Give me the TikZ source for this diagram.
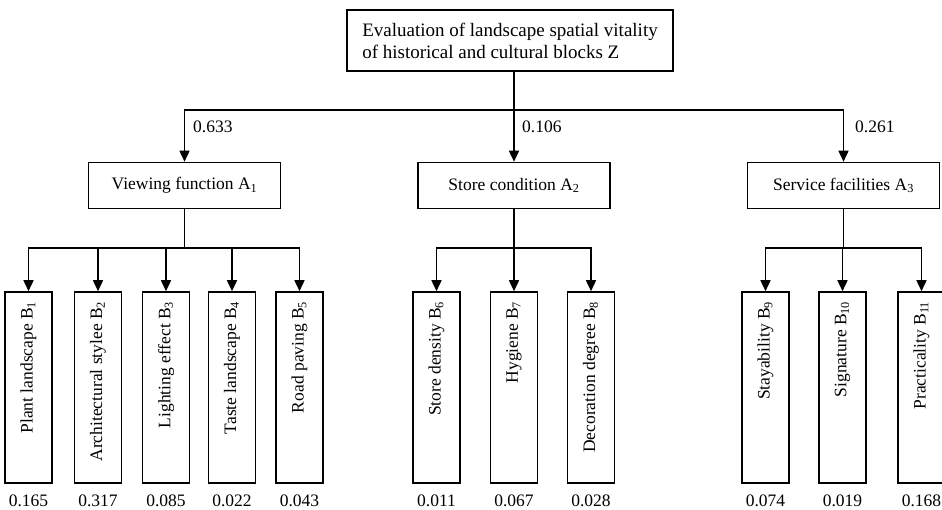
\documentclass[tikz,border=0pt]{standalone}
\usepackage{fontspec}
\setmainfont{Liberation Serif}
\usetikzlibrary{arrows.meta}
\begin{document}
\begin{tikzpicture}[x=1pt,y=-1pt,
  txt/.style={font=\fontsize{17.5}{21}\selectfont},
  box/.style={draw,line width=1.6pt,inner sep=0pt,txt},
  abox/.style={box,minimum width=192pt,minimum height=46pt},
  bbox/.style={box,minimum width=47pt,minimum height=191pt},
  btext/.style={rotate=90,anchor=east,inner sep=0pt,txt},
  val/.style={txt,inner sep=0pt},
  ln/.style={line width=1.6pt},
  arr/.style={ln,-{Triangle[length=11pt,width=10pt]}}]
\useasboundingbox (0,0) rectangle (942,510);
% top
\node[box,minimum width=326pt,minimum height=61pt,align=left,
  font=\fontsize{19}{22}\selectfont] (Z) at (510,40.5)
  {Evaluation of landscape spatial vitality\\of historical and cultural blocks Z};
% level A
\node[abox] (A1) at (184.5,185.5) {Viewing function A\textsubscript{1}};
\node[abox] (A2) at (514,185.5) {Store condition A\textsubscript{2}};
\node[abox] (A3) at (843.5,185.5) {Service facilities A\textsubscript{3}};
\coordinate (bz) at (514,110);
\draw[arr] (Z.south -| A2.north) -- (A2.north);
\draw[arr] (bz) -| (A1.north);
\draw[arr] (bz) -| (A3.north);
\node[val,anchor=west] (w1) at (193,127) {0.633};
\node[val,anchor=west] (w2) at (522,127) {0.106};
\node[val,anchor=west] (w3) at (855,127) {0.261};
% level B
\foreach \n/\x/\t/\v in {
  1/28.5/Plant landscape B\textsubscript{1}/0.165,
  2/98/Architectural stylee B\textsubscript{2}/0.317,
  3/166/Lighting effect B\textsubscript{3}/0.085,
  4/232/Taste landscape B\textsubscript{4}/0.022,
  5/299.5/Road paving B\textsubscript{5}/0.043,
  6/436.5/Store density B\textsubscript{6}/0.011,
  7/514/Hygiene B\textsubscript{7}/0.067,
  8/591/Decoration degree B\textsubscript{8}/0.028,
  9/765.5/Stayability B\textsubscript{9}/0.074,
  10/842.5/Signature B\textsubscript{10}/0.019,
  11/921.5/Practicality B\textsubscript{11}/0.168}{
  \node[bbox] (B\n) at (\x,387.5) {};
  \node[btext] (T\n) at ([yshift=-10pt]B\n.north) {\t};
  \node[val] (V\n) at ([yshift=-17pt]B\n.south) {\v};
}
\coordinate (g1) at (A1.south |- 0,248);
\coordinate (g2) at (A2.south |- 0,248);
\coordinate (g3) at (A3.south |- 0,248);
\draw[ln] (A1.south) -- (g1);
\draw[ln] (A2.south) -- (g2);
\draw[ln] (A3.south) -- (g3);
\foreach \i in {1,...,5}{\draw[arr] (g1) -| (B\i.north);}
\foreach \i in {6,7,8}{\draw[arr] (g2) -| (B\i.north);}
\foreach \i in {9,10,11}{\draw[arr] (g3) -| (B\i.north);}
\end{tikzpicture}
\end{document}
